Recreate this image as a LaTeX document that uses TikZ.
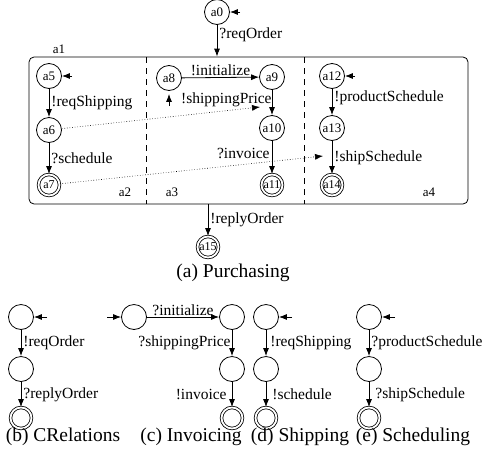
\documentclass[tikz,border=0pt]{standalone}
\usepackage{fontspec}
\setmainfont{Liberation Serif}
\usetikzlibrary{arrows.meta}
\tikzset{
  stnode/.style={circle,draw,minimum size=25pt,inner sep=0pt,font=\fontsize{13}{13}\selectfont},
  fnode/.style={stnode,double,double distance=1.8pt,minimum size=21pt,font=\fontsize{12}{12}\selectfont},
  lbl/.style={font=\fontsize{15.5}{15.5}\selectfont,inner sep=2pt},
  capt/.style={font=\fontsize{19.5}{19.5}\selectfont},
  tagtxt/.style={font=\fontsize{13}{13}\selectfont},
}

\begin{document}
\begin{tikzpicture}[x=1pt,y=-1pt,line width=0.8pt,>={Latex[length=8pt,width=6pt]}]
    \useasboundingbox (0,0) rectangle (489,461);
    % Define nodes
    \node[stnode] (a0) at (217,12) {a0};
    \node[draw,rounded corners=5pt,minimum width=439pt,minimum height=147pt,inner sep=0pt] (a1) at (248.5,130.5) {};
    \node[tagtxt] (t1) at (59,49) {a1};
    \node[tagtxt] (t2) at (125,192) {a2};
    \node[tagtxt] (t3) at (172,192) {a3};
    \node[tagtxt] (t4) at (429,192) {a4};

    \node[stnode] (a5) at (49,76) {a5};
    \node[stnode] (a6) at (49,130) {a6};
    \node[fnode] (a7) at (49,185) {a7};

    \node[stnode] (a8) at (169,78) {a8};
    \node[stnode] (a9) at (272,77) {a9};
    \node[stnode] (a10) at (272,128) {a10};
    \node[fnode] (a11) at (272,185) {a11};

    \node[stnode] (a12) at (332,76) {a12};
    \node[stnode] (a13) at (332,128) {a13};
    \node[fnode] (a14) at (332,185) {a14};

    \node[fnode] (a15) at (208,247) {a15};
    \node[capt] (capa) at (233,273) {(a) Purchasing};

    \coordinate (i0) at (240,12);
    \coordinate (i5) at (72,76);
    \coordinate (i8) at (169,106);
    \coordinate (i12) at (355,76);
    \coordinate (m1) at (260,107);
    \coordinate (m2) at (323,156);

    % Draw arrows
    \draw[->] (i0) -- (a0);
    \draw[->] (a0) -- (a0 |- a1.north) node[lbl,right,pos=0.3] {?reqOrder};
    \draw[dash pattern=on 6pt off 5pt] (146,57) -- (146,204);
    \draw[dash pattern=on 6pt off 5pt] (304,57) -- (304,204);

    \draw[->] (i5) -- (a5);
    \draw[->] (a5) -- (a6) node[lbl,right,midway] {!reqShipping};
    \draw[->] (a6) -- (a7) node[lbl,right,midway] {?schedule};

    \draw[->,shorten >=3pt] (i8) -- (a8);
    \draw[->] (a8) -- (a9) node[lbl,above,midway,inner sep=1pt] {!initialize};
    \draw[->] (a9) -- (a10) node[lbl,left,midway,inner sep=0pt,yshift=3pt] {!shippingPrice};
    \draw[->] (a10) -- (a11) node[lbl,left,midway,yshift=4pt] {?invoice};

    \draw[->] (i12) -- (a12);
    \draw[->] (a12) -- (a13) node[lbl,right,midway,yshift=4pt] {!productSchedule};
    \draw[->] (a13) -- (a14) node[lbl,right,midway] {!shipSchedule};

    \draw[->,dotted,line width=0.6pt] (a6) -- (m1);
    \draw[->,dotted,line width=0.6pt] (a7) -- (m2);

    \draw[->] (a15 |- a1.south) -- (a15) node[lbl,right,midway] {!replyOrder};

    % CRelations
    \node[stnode] (b0) at (21,317) {};
    \node[stnode] (b1) at (21,369) {};
    \node[fnode] (b2) at (21,418) {};
    \coordinate (ib) at (47,317);
    \draw[->] (ib) -- (b0);
    \draw[->] (b0) -- (b1) node[lbl,right,midway] {!reqOrder};
    \draw[->] (b1) -- (b2) node[lbl,right,midway] {?replyOrder};
    \node[capt] (capb) at (63,437) {(b) CRelations};

    % Invoicing
    \node[stnode] (c0) at (134,317) {};
    \node[stnode] (c1) at (232,317) {};
    \node[stnode] (c2) at (232,369) {};
    \node[fnode] (c3) at (232,418) {};
    \coordinate (ic) at (107,317);
    \draw[->] (ic) -- (c0);
    \draw[->] (c0) -- (c1) node[lbl,above,midway,inner sep=1pt] {?initialize};
    \draw[->] (c1) -- (c2) node[lbl,left,midway,inner sep=1pt] {?shippingPrice};
    \draw[->] (c2) -- (c3) node[lbl,left,midway,xshift=-3pt] {!invoice};
    \node[capt] (capc) at (191,437) {(c) Invoicing};

    % Shipping
    \node[stnode] (d0) at (266,317) {};
    \node[stnode] (d1) at (266,369) {};
    \node[fnode] (d2) at (266,418) {};
    \coordinate (id) at (292,317);
    \draw[->] (id) -- (d0);
    \draw[->] (d0) -- (d1) node[lbl,right,midway,xshift=2pt] {!reqShipping};
    \draw[->] (d1) -- (d2) node[lbl,right,midway,xshift=4pt] {!schedule};
    \node[capt] (capd) at (300,437) {(d) Shipping};

    % Scheduling
    \node[stnode] (e0) at (369,317) {};
    \node[stnode] (e1) at (369,369) {};
    \node[fnode] (e2) at (369,418) {};
    \coordinate (ie) at (395,317);
    \draw[->] (ie) -- (e0);
    \draw[->] (e0) -- (e1) node[lbl,right,midway] {?productSchedule};
    \draw[->] (e1) -- (e2) node[lbl,right,midway,xshift=4pt] {?shipSchedule};
    \node[capt] (cape) at (413,437) {(e) Scheduling};
\end{tikzpicture}
\end{document}
